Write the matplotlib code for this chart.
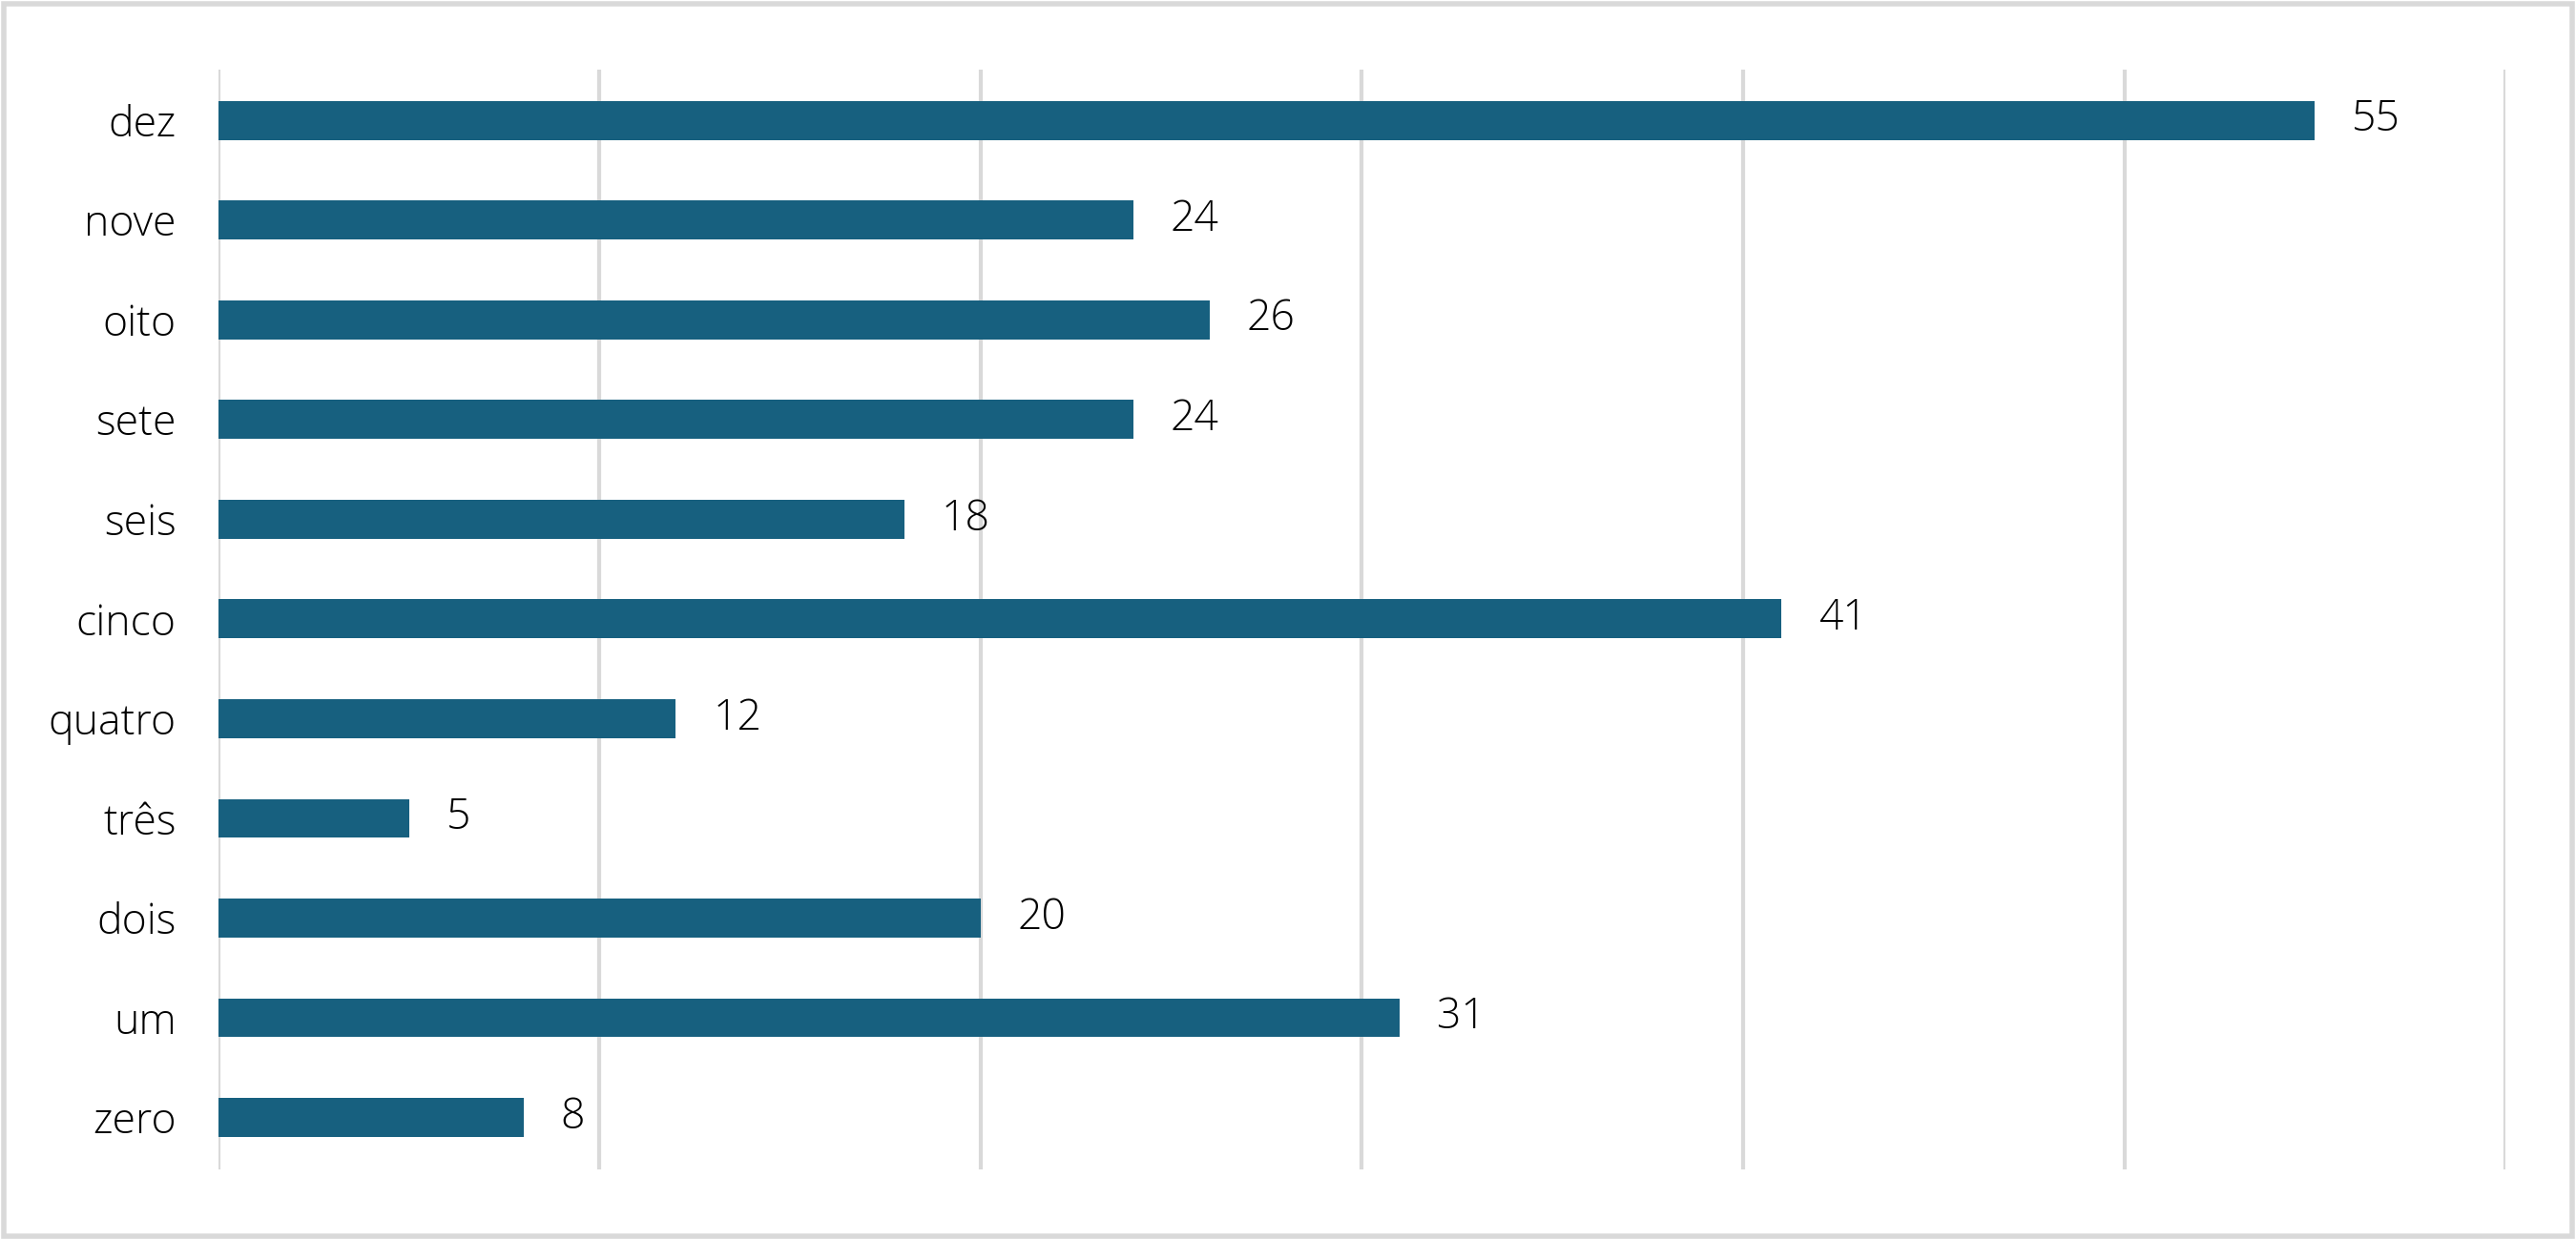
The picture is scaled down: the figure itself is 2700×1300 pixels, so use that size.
import matplotlib.pyplot as plt
from matplotlib.patches import Rectangle

categories = ['zero', 'um', 'dois', 'três', 'quatro', 'cinco', 'seis', 'sete', 'oito', 'nove', 'dez']
values = [8, 31, 20, 5, 12, 41, 18, 24, 26, 24, 55]

plt.rcParams['font.family'] = ['Open Sans', 'DejaVu Sans']
plt.rcParams['font.weight'] = 'light'

fig = plt.figure(figsize=(27, 13), dpi=100)
ax = fig.add_axes([0.0848, 0.057, 0.8878, 0.887])

ypos = list(range(len(categories)))
ax.barh(ypos, values, height=0.39, color='#17607f', zorder=3)

for y, v in zip(ypos, values):
    ax.annotate(str(v), (v, y), xytext=(28, 0), textcoords='offset points',
                va='center', ha='left', fontsize=32, color='black')

ax.set_xlim(0, 60)
ax.set_ylim(-0.52, 10.51)
ax.set_xticks(range(0, 61, 10))
ax.set_xticklabels([])
ax.set_yticks(ypos)
ax.set_yticklabels(categories, fontsize=32)
ax.tick_params(axis='both', length=0, pad=32)
ax.grid(axis='x', color='#d9d9d9', linewidth=3, zorder=0)
for s in ax.spines.values():
    s.set_visible(False)

# outer frame
fig.patches.append(Rectangle((0.0015, 0.003), 0.997, 0.994, transform=fig.transFigure,
                             fill=False, edgecolor='#d9d9d9', linewidth=4))

fig.savefig('out.png', dpi=100, facecolor='white')
